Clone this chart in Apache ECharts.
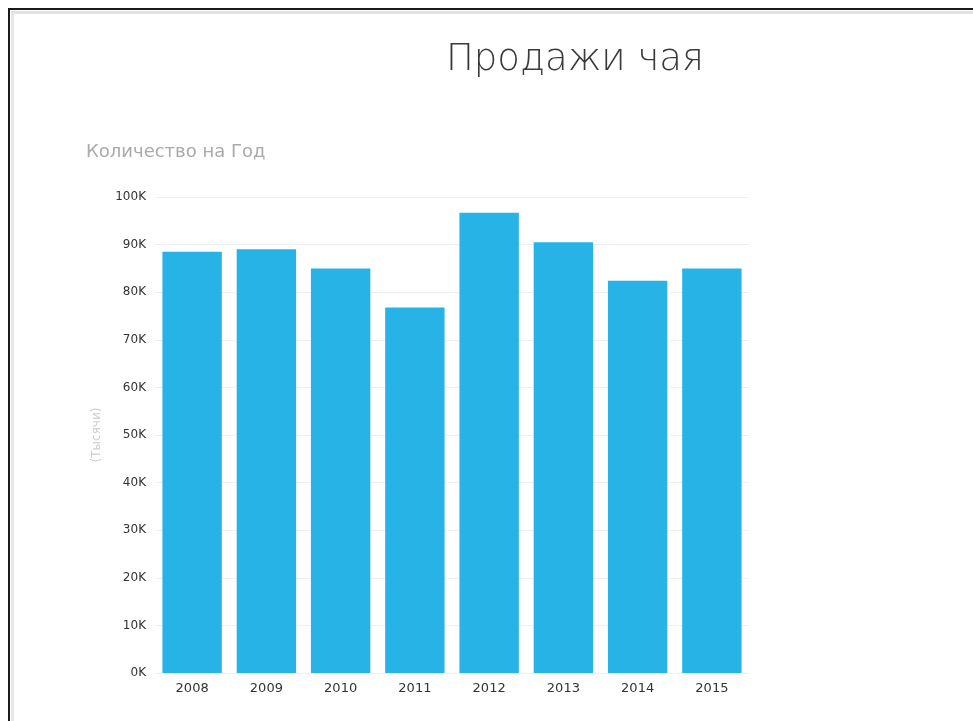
<!DOCTYPE html>
<html>
<head>
<meta charset="utf-8">
<script src="https://cdn.jsdelivr.net/npm/echarts@6/dist/echarts.min.js"></script>
<style>
  html, body { margin: 0; padding: 0; background: #fff; }
  #wrap { position: relative; width: 973px; height: 721px; overflow: hidden; }
  #chart { position: absolute; left: 0; top: 0; width: 973px; height: 721px; }
  #frameDark { position: absolute; left: 8px; top: 8px; width: 1000px; height: 1000px;
    border-top: 2px solid #1a1a1a; border-left: 2px solid #1a1a1a; pointer-events: none; }
  #frameLight { position: absolute; left: 11px; top: 11px; width: 1000px; height: 1000px;
    border-top: 3px solid #e2e2e2; border-left: 3px solid #e6e6e6; pointer-events: none; }
</style>
</head>
<body>
<div id="wrap">
  <div id="chart"></div>
  <div id="frameLight"></div>
  <div id="frameDark"></div>
</div>
<script>
const categories = ['2008', '2009', '2010', '2011', '2012', '2013', '2014', '2015'];
const salesValues = [88500, 89000, 85000, 76800, 96700, 90500, 82400, 85000];
const titleText = 'Продажи чая';
const subtitleText = 'Количество на Год';
const yAxisName = '(Тысячи)';

const FONT = '"DejaVu Sans", "Noto Sans", sans-serif';
const chart = echarts.init(document.getElementById('chart'), null, { renderer: 'canvas' });
chart.setOption({
  backgroundColor: '#ffffff',
  animation: false,
  title: [
    {
      text: titleText,
      left: 441,
      top: 37,
      textStyle: { fontFamily: FONT, fontSize: 37, fontWeight: 200, color: '#3a3a3a' }
    },
    {
      text: subtitleText,
      left: 81,
      top: 138,
      textStyle: { fontFamily: FONT, fontSize: 18, fontWeight: 'normal', color: '#aaaaaa' }
    }
  ],
  grid: { left: 155, right: 224, top: 197, bottom: 48, containLabel: false },
  xAxis: {
    type: 'category',
    data: categories,
    axisLine: { show: false },
    axisTick: { show: false },
    axisLabel: { color: '#333', fontSize: 13, margin: 9, fontFamily: FONT }
  },
  yAxis: {
    type: 'value',
    min: 0,
    max: 100000,
    interval: 10000,
    name: yAxisName,
    nameLocation: 'middle',
    nameGap: 52,
    nameRotate: 90,
    nameTextStyle: { color: '#cfcfcf', fontSize: 12, fontFamily: FONT },
    axisLine: { show: false },
    axisTick: { show: false },
    axisLabel: {
      color: '#333', fontSize: 12, margin: 9,
      fontFamily: FONT,
      formatter: v => (v / 1000) + 'K'
    },
    splitLine: { lineStyle: { color: '#eeeeee', width: 1 } }
  },
  series: [{
    type: 'bar',
    data: salesValues,
    barCategoryGap: '20%',
    itemStyle: { color: '#27b3e6' }
  }]
});
</script>
</body>
</html>
